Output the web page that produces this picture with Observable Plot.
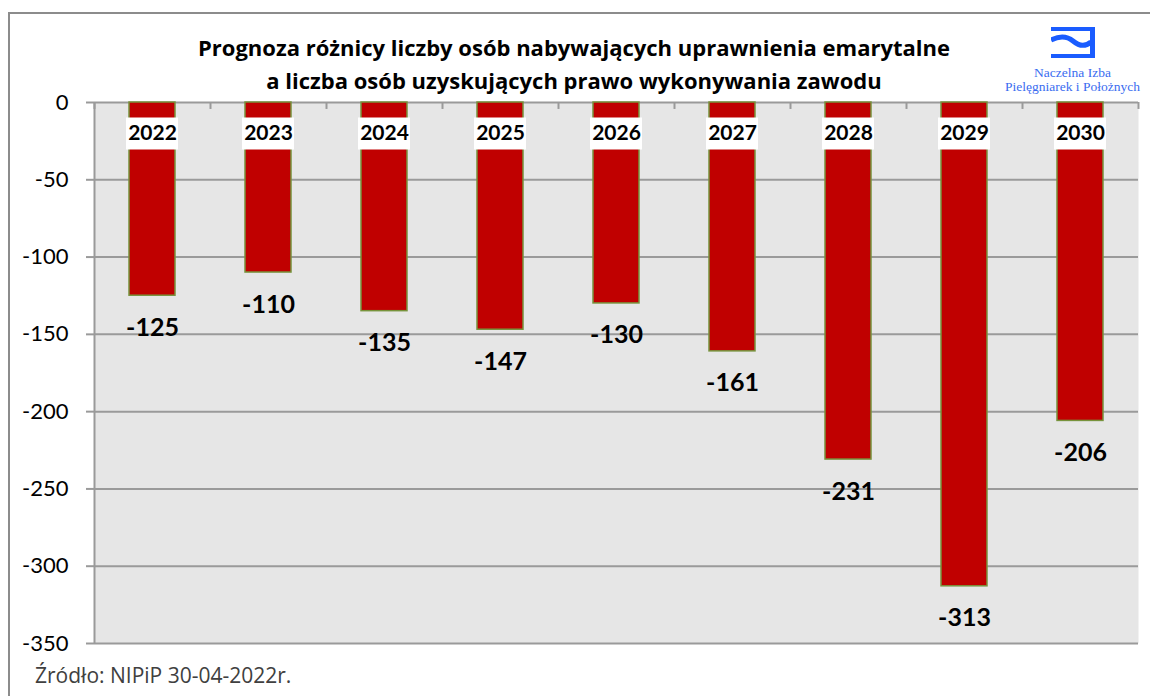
<!DOCTYPE html>
<html><head><meta charset="utf-8">
<script src="https://cdn.jsdelivr.net/npm/d3@7"></script>
<script src="https://cdn.jsdelivr.net/npm/@observablehq/plot@0.6"></script>
<style>
body{margin:0;background:#fff;font-family:Lato,sans-serif;}
#wrap{position:relative;width:1150px;height:696px;overflow:hidden;background:#fff;}
#frame{position:absolute;left:8px;top:12px;width:1170px;height:720px;border:2px solid #8c8c8c;box-sizing:border-box;}
#title{position:absolute;left:0;width:1148px;top:31px;text-align:center;font-family:"Open Sans",sans-serif;font-weight:700;font-size:22px;line-height:33px;color:#000;z-index:2;}
#chart{position:absolute;left:0;top:70px;}
#logo{position:absolute;left:1000px;top:27px;width:145px;text-align:center;font-family:"Liberation Serif",serif;font-size:13.5px;line-height:14px;color:#3a6cf0;z-index:2;}
#logo svg{display:block;margin:0 auto 8px auto;}
#caption{position:absolute;left:35px;top:661px;font-family:"Open Sans",sans-serif;font-size:21px;color:#404040;}
</style>
</head><body>
<div id="wrap">
  <div id="frame"></div>
  <div id="chart"></div>
  <div id="title">Prognoza różnicy liczby osób nabywających uprawnienia emarytalne<br>a liczba osób uzyskujących prawo wykonywania zawodu</div>
  <div id="logo">
    <svg width="44" height="31" viewBox="0 0 44 31">
      <path d="M0,0 H44 V31 H0 V27 H39 V4 H0 Z" fill="#1a5cff"/>
      <path d="M0,13 C8,9 16,9 22,14 S34,20 40,15" fill="none" stroke="#1a5cff" stroke-width="5"/>
    </svg>
    <div>Naczelna Izba</div>
    <div>Pielęgniarek i Położnych</div>
  </div>
  <div id="caption">Źródło: NIPiP 30-04-2022r.</div>
</div>
<script>
const years = [2022, 2023, 2024, 2025, 2026, 2027, 2028, 2029, 2030];
const values = [-125, -110, -135, -147, -130, -161, -231, -313, -206];
const yTicks = [0, -50, -100, -150, -200, -250, -300, -350];

const data = years.map((y, i) => ({year: y, value: values[i]}));

const W = 1150, H = 590, ml = 94, mr = 12, mt = 32, mb = 17;
const bw = (W - ml - mr) / years.length;
const grid = "#9a9a9a";

const chart = Plot.plot({
  width: W, height: H,
  marginLeft: ml, marginRight: mr, marginTop: mt, marginBottom: mb,
  style: {fontFamily: "Lato, sans-serif", background: "transparent"},
  x: {type: "band", domain: years, padding: 0, axis: null},
  y: {domain: [-350, 0]},
  marks: [
    Plot.frame({fill: "#e6e6e6", stroke: "none"}),
    Plot.ruleY(yTicks, {stroke: grid, strokeWidth: 2}),
    Plot.ruleX([years[0]], {x: d => d, dx: -bw / 2, y1: -350, y2: 0, stroke: grid, strokeWidth: 2}),
    Plot.ruleX(years, {x: d => d, dx: -bw / 2, y1: 0, y2: -4.5, stroke: grid, strokeWidth: 2}),
    Plot.ruleX([years[years.length - 1]], {x: d => d, dx: bw / 2, y1: 0, y2: -4.5, stroke: grid, strokeWidth: 2}),
    Plot.barY(data, {x: "year", y: "value", fill: "#c00000", stroke: "#77933c", strokeWidth: 1.5, insetLeft: 35, insetRight: 35}),
    Plot.tickY(years, {x: d => d, y: () => 0, dy: 31, stroke: "white", strokeWidth: 32, insetLeft: 32, insetRight: 32}),
    Plot.text(years, {x: d => d, y: () => 0, dy: 31, text: d => String(d), fontWeight: 700, fontSize: 21, fill: "black"}),
    Plot.text(data, {x: "year", y: "value", dy: 32, text: d => String(d.value), fontWeight: 700, fontSize: 25, fill: "black"}),
    Plot.axisY({ticks: yTicks, tickFormat: d => String(d), tickSize: 8, tickPadding: 18, fontSize: 22, stroke: grid, strokeWidth: 2, fill: "black", label: null})
  ]
});
document.getElementById("chart").appendChild(chart);
</script>
</body></html>
